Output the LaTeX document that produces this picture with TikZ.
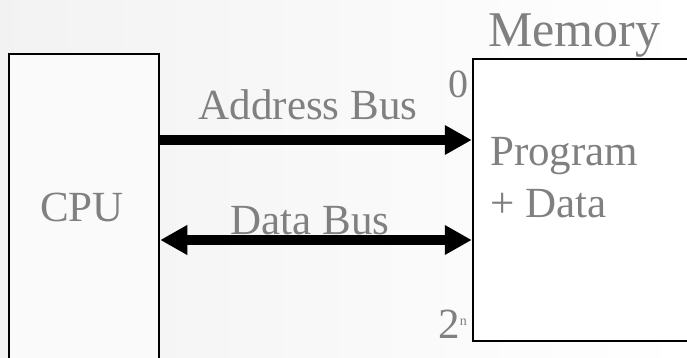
\documentclass[tikz,border=0pt]{standalone}
\usepackage{fontspec}
\setmainfont{Liberation Serif}
\usetikzlibrary{arrows.meta}
\begin{document}
\begin{tikzpicture}[x=1pt,y=-1pt,
  lbl/.style={text=black!50, inner sep=0pt, font=\fontsize{43}{52}\selectfont},
  unit/.style={draw=black, line width=2.5pt, inner sep=0pt},
  bus/.style={line width=10pt, draw=black},
  head/.style={Triangle[length=27pt,width=28pt]}]
  \useasboundingbox (0,0) rectangle (687,358);
  \clip (0,0) rectangle (687,358);
  % faint page background
  \shade[left color=black!5, right color=white] (0,0) rectangle (687,358);

  % the two units (both run past the page edge)
  \node[unit, fill=black!2, minimum width=150pt, minimum height=346pt] (cpu) at (84,227) {};
  \node[unit, fill=white, minimum width=247pt, minimum height=282pt] (mem) at (596.5,200) {};

  % unit labels
  \node[lbl, anchor=base] (cpulbl) at (82,221) {CPU};
  \node[lbl, anchor=base west, font=\fontsize{50}{56}\selectfont] (memlbl) at (488,47) {Memory};
  \node[lbl, anchor=base west, align=left] (prog) at (490,165) {Program};
  \node[lbl, anchor=base west] (pdata) at (490,217) {+ Data};

  % address range
  \node[lbl, anchor=base east, font=\fontsize{40}{44}\selectfont] (lo) at (469,98) {0};
  \node[lbl, anchor=base east] (hi) at (467,338) {2\raisebox{13pt}{\fontsize{14}{14}\selectfont n}};

  % buses
  \coordinate (abus) at (0,140);
  \coordinate (dbus) at (0,240);
  \draw[bus, -{Triangle[length=27pt,width=28pt]}] (cpu.east |- abus) -- (mem.west |- abus);
  \draw[bus, {Triangle[length=27pt,width=28pt]}-{Triangle[length=27pt,width=28pt]}] (cpu.east |- dbus) -- (mem.west |- dbus);
  \node[lbl, anchor=base] (albl) at (308,120) {Address Bus};
  \node[lbl, anchor=base] (dlbl) at (310,234) {Data Bus};
\end{tikzpicture}
\end{document}
